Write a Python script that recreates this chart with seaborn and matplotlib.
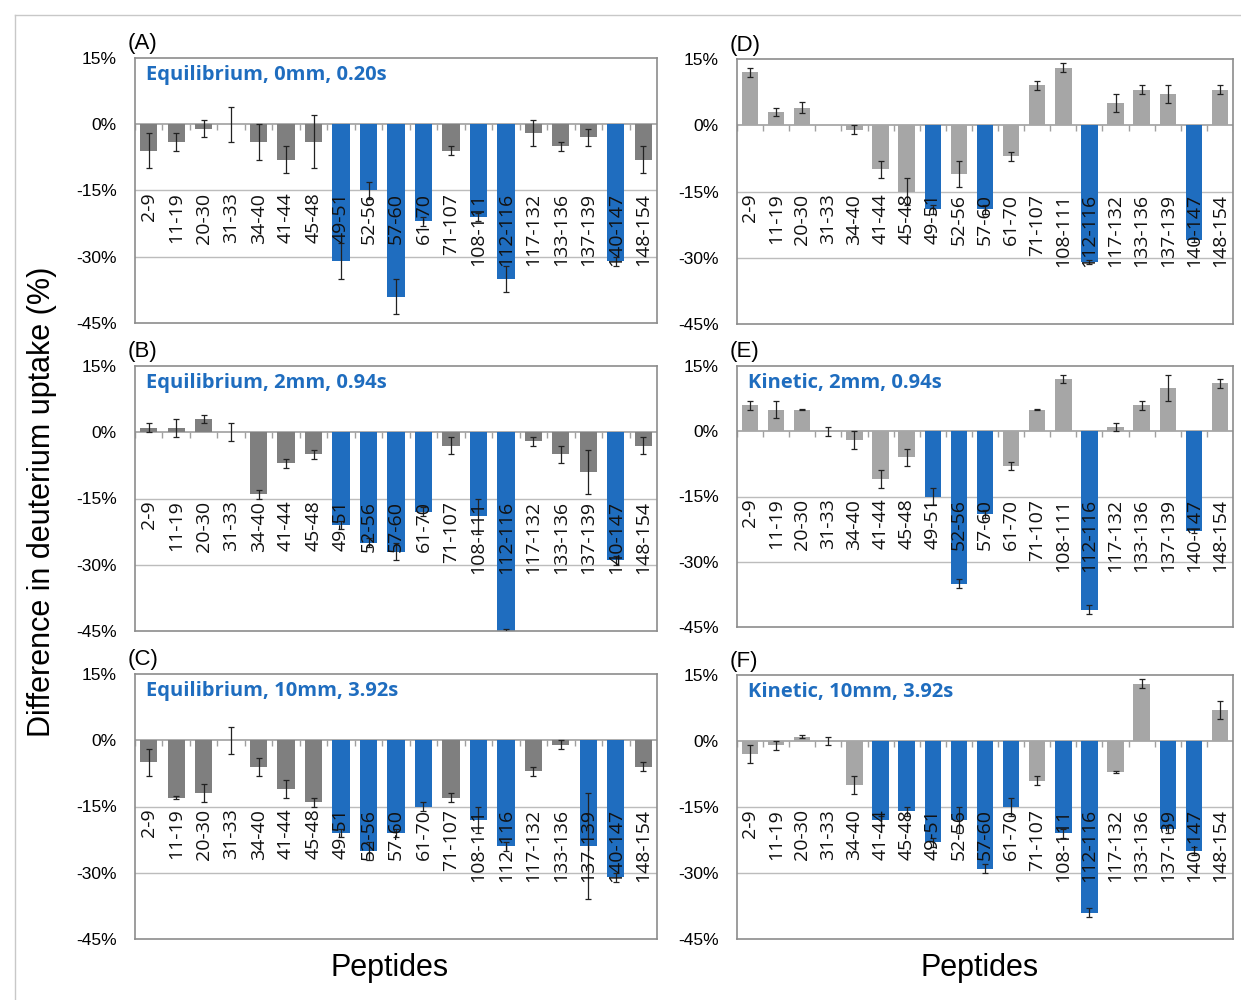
import matplotlib
matplotlib.use("Agg")
import matplotlib.pyplot as plt
import seaborn as sns
import pandas as pd
from matplotlib.lines import Line2D

# peptides on the x axis
peptides = ['2-9', '11-19', '20-30', '31-33', '34-40', '41-44', '45-48', '49-51', '52-56',
            '57-60', '61-70', '71-107', '108-111', '112-116', '117-132', '133-136',
            '137-139', '140-147', '148-154']

# difference in deuterium uptake (%) and error for each panel
vals_A = [-6, -4, -1, 0, -4, -8, -4, -31, -15, -39, -22, -6, -21, -35, -2, -5, -3, -31, -8]
err_A = [4, 2, 2, 4, 4, 3, 6, 4, 2, 4, 1, 1, 1, 3, 3, 1, 2, 1, 3]
blue_A = ['49-51', '52-56', '57-60', '61-70', '108-111', '112-116', '140-147']

vals_B = [1, 1, 3, 0, -14, -7, -5, -21, -25, -27, -18, -3, -19, -45, -2, -5, -9, -29, -3]
err_B = [1, 2, 1, 2, 1, 1, 1, 1, 1, 2, 1, 2, 4, 0.5, 1, 2, 5, 1, 2]
blue_B = ['49-51', '52-56', '57-60', '61-70', '108-111', '112-116', '140-147']

vals_C = [-5, -13, -12, 0, -6, -11, -14, -21, -25, -21, -15, -13, -18, -24, -7, -1, -24, -31, -6]
err_C = [3, 0.3, 2, 3, 2, 2, 1, 1, 2, 1, 1, 1, 3, 1, 1, 1, 12, 1, 1]
blue_C = ['49-51', '52-56', '57-60', '61-70', '108-111', '112-116', '137-139', '140-147']

vals_D = [12, 3, 4, 0, -1, -10, -15, -19, -11, -19, -7, 9, 13, -31, 5, 8, 7, -26, 8]
err_D = [1, 1, 1.2, 0, 1, 2, 3, 1, 3, 1, 1, 1, 1, 0.5, 2, 1, 2, 0.5, 1]
blue_D = ['49-51', '57-60', '112-116', '140-147']

vals_E = [6, 5, 5, 0, -2, -11, -6, -15, -35, -19, -8, 5, 12, -41, 1, 6, 10, -23, 11]
err_E = [1, 2, 0.2, 1, 2, 2, 2, 2, 1, 1, 1, 0.2, 1, 1, 1, 1, 3, 0.5, 1]
blue_E = ['49-51', '52-56', '57-60', '112-116', '140-147']

vals_F = [-3, -1, 1, 0, -10, -18, -16, -23, -18, -29, -15, -9, -21, -39, -7, 13, -20, -25, 7]
err_F = [2, 1, 0.3, 1, 2, 1, 1, 1, 3, 1, 2, 1, 1, 1, 0.2, 1, 1, 1, 2]
blue_F = ['41-44', '45-48', '49-51', '52-56', '57-60', '61-70', '108-111', '112-116',
          '137-139', '140-147']

BLUE = '#1f6dbf'
W, H = 1241, 1000

plt.rcParams['font.family'] = ['Liberation Sans', 'DejaVu Sans']
fig = plt.figure(figsize=(W / 100, H / 100), dpi=100)


def panel(box, vals, errs, blues, grey, letter, title):
    left, top, right, bottom = box
    ax = fig.add_axes([left / W, 1 - bottom / H, (right - left) / W, (bottom - top) / H])
    df = pd.DataFrame({'Peptide': peptides, 'Diff': vals, 'Err': errs})
    df['Group'] = ['hit' if p in blues else 'other' for p in peptides]
    df['x'] = range(len(peptides))
    for y in [-15, -30]:
        ax.axhline(y, color='#bcbcbc', lw=1, zorder=0)
    sns.barplot(data=df, x='Peptide', y='Diff', hue='Group', palette={'hit': BLUE, 'other': grey},
                dodge=False, legend=False, width=0.63, errorbar=None, ax=ax, zorder=2,
                saturation=1)
    e = df[df['Err'] > 0]
    ax.errorbar(e['x'], e['Diff'], yerr=e['Err'], fmt='none', ecolor='#222222',
                elinewidth=0.9, capsize=2.5, capthick=0.9, zorder=3)
    ax.axhline(0, color='#a0a0a0', lw=1.2, zorder=1)
    ax.vlines([i + 0.5 for i in range(-1, len(peptides))], -1.3, 0, color='#a0a0a0',
              lw=1, zorder=1)
    for i, p in enumerate(peptides):
        ax.text(i, -15.5, p, rotation=90, ha='center', va='top', fontsize=14,
                family=['Open Sans', 'DejaVu Sans'], color='#111111', zorder=4)
    ax.set_xlim(-0.5, len(peptides) - 0.5)
    ax.set_ylim(-45, 15)
    ax.set_yticks([15, 0, -15, -30, -45])
    ax.set_yticklabels(['15%', '0%', '-15%', '-30%', '-45%'], fontsize=12.5)
    ax.tick_params(axis='y', length=0, pad=13)
    ax.set_xticks([])
    ax.set_xlabel('')
    ax.set_ylabel('')
    for s in ax.spines.values():
        s.set_color('#8c8c8c')
        s.set_linewidth(1.2)
    if title:
        ax.text(0.022, 0.935, title, transform=ax.transAxes, ha='left', va='center',
                fontsize=14.5, fontweight='bold', color=BLUE, family=['Open Sans', 'DejaVu Sans'])
    fig.text((left - 7) / W, 1 - (top - 14) / H, letter, ha='left', va='center', fontsize=16)
    return ax


panel((135, 58, 657, 323), vals_A, err_A, blue_A, '#7f7f7f', '(A)', 'Equilibrium, 0mm, 0.20s')
panel((135, 366, 657, 631), vals_B, err_B, blue_B, '#7f7f7f', '(B)', 'Equilibrium, 2mm, 0.94s')
panel((135, 674, 657, 939), vals_C, err_C, blue_C, '#7f7f7f', '(C)', 'Equilibrium, 10mm, 3.92s')
panel((737, 59, 1233, 324), vals_D, err_D, blue_D, '#a6a6a6', '(D)', None)
panel((737, 366, 1233, 627), vals_E, err_E, blue_E, '#a6a6a6', '(E)', 'Kinetic, 2mm, 0.94s')
panel((737, 675, 1233, 939), vals_F, err_F, blue_F, '#a6a6a6', '(F)', 'Kinetic, 10mm, 3.92s')

fig.text(42 / W, 1 - 502 / H, 'Difference in deuterium uptake (%)', rotation=90,
         ha='center', va='center', fontsize=22)
fig.text(390 / W, 1 - 968 / H, 'Peptides', ha='center', va='center', fontsize=22)
fig.text(980 / W, 1 - 968 / H, 'Peptides', ha='center', va='center', fontsize=22)

# thin frame of the original figure
fig.add_artist(Line2D([15 / W, 1], [1 - 15 / H, 1 - 15 / H], color='#c8c8c8', lw=1))
fig.add_artist(Line2D([15 / W, 15 / W], [1 - 15 / H, 0], color='#c8c8c8', lw=1))

fig.savefig('out.png', dpi=100)
